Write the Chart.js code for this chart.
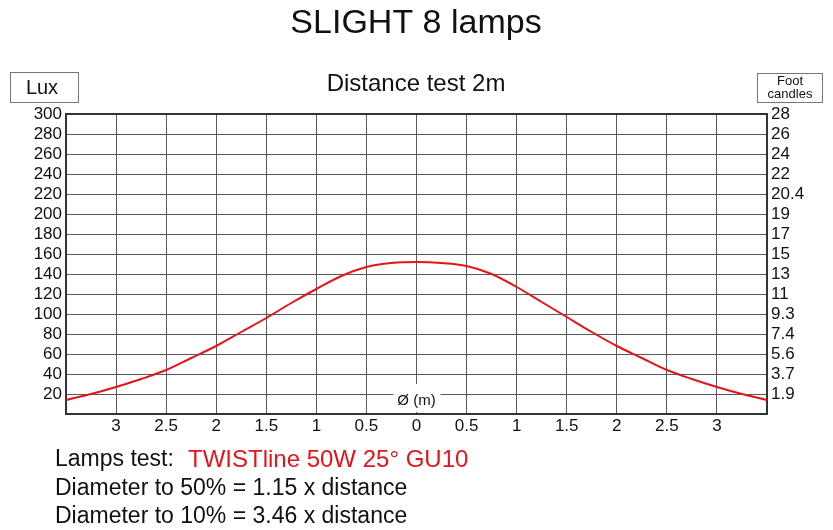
<!DOCTYPE html>
<html>
<head>
<meta charset="utf-8">
<script src="https://cdn.jsdelivr.net/npm/chart.js@4.4.0/dist/chart.umd.min.js"></script>
<style>
  html, body { margin: 0; padding: 0; background: #fff; }
  #wrap { position: relative; width: 833px; height: 530px; }
</style>
</head>
<body>
<div id="wrap"><canvas id="graph" width="833" height="530"></canvas></div>
<script>
// distance from centre (m) and measured lux
const distances = [-3.5, -3.25, -3, -2.75, -2.5, -2.25, -2, -1.75, -1.5, -1.25, -1, -0.75, -0.5, -0.25, 0,
  0.25, 0.5, 0.75, 1, 1.25, 1.5, 1.75, 2, 2.25, 2.5, 2.75, 3, 3.25, 3.5];
const luxValues = [14, 20, 27, 35, 44, 56, 68, 82, 96, 111, 125, 138, 147, 151, 152,
  151, 148, 140, 127, 112, 97, 82, 68, 56, 44, 35, 27, 20, 14];

const luxTicks = [20, 40, 60, 80, 100, 120, 140, 160, 180, 200, 220, 240, 260, 280, 300];
const footCandleLabels = ['1.9', '3.7', '5.6', '7.4', '9.3', '11', '13', '15', '17', '19', '20.4', '22', '24', '26', '28'];

const FONT = '"Liberation Sans", Arial, sans-serif';
const GRID = '#5a5a5a';

const extras = {
  id: 'extras',
  afterDraw(chart) {
    const c = chart.ctx;
    const x0 = chart.scales.x.getPixelForValue(0);
    const yb = chart.chartArea.bottom;
    c.save();
    // axis label with white background
    c.fillStyle = '#fff';
    c.fillRect(x0 - 23, yb - 30, 47, 28);
    c.fillStyle = '#111';
    c.font = '15px ' + FONT;
    c.textAlign = 'center';
    c.textBaseline = 'middle';
    c.fillText('Ø (m)', x0, yb - 13);

    // titles
    c.font = '34px ' + FONT;
    c.fillText('SLIGHT 8 lamps', 416, 24);
    c.font = '24px ' + FONT;
    c.fillText('Distance test 2m', 416, 84);

    // unit boxes
    c.strokeStyle = '#777';
    c.lineWidth = 1;
    c.strokeRect(10.5, 72.5, 68, 30);
    c.font = '20px ' + FONT;
    c.fillText('Lux', 42, 88);
    c.strokeRect(757.5, 73.5, 65, 29);
    c.font = '13px ' + FONT;
    c.fillText('Foot', 790, 81);
    c.fillText('candles', 790, 94);

    // notes under the chart
    c.textAlign = 'left';
    c.font = '23px ' + FONT;
    c.fillStyle = '#111';
    c.fillText('Lamps test:', 55, 460);
    c.fillStyle = '#e3141b';
    c.font = '24px ' + FONT;
    c.fillText('TWISTline 50W 25° GU10', 188, 460);
    c.fillStyle = '#111';
    c.font = '23px ' + FONT;
    c.fillText('Diameter to 50% = 1.15 x distance', 55, 489);
    c.fillText('Diameter to 10% = 3.46 x distance', 55, 517);
    c.restore();
  }
};

const tickFont = { family: FONT, size: 17 };

new Chart(document.getElementById('graph').getContext('2d'), {
  type: 'line',
  data: {
    datasets: [{
      label: 'Lux',
      data: distances.map((d, i) => ({ x: d, y: luxValues[i] })),
      borderColor: '#e3141b',
      borderWidth: 2,
      pointRadius: 0,
      cubicInterpolationMode: 'monotone',
      fill: false
    }]
  },
  options: {
    responsive: false,
    animation: false,
    layout: { padding: { top: 114, left: 0, right: 0, bottom: 0 } },
    plugins: {
      legend: { display: false },
      tooltip: { enabled: false }
    },
    scales: {
      x: {
        type: 'linear',
        min: -3.5,
        max: 3.5,
        afterFit(s) { s.height = 116; },
        afterBuildTicks(s) {
          s.ticks = [];
          for (let v = -3.5; v <= 3.5001; v += 0.5) s.ticks.push({ value: v });
        },
        grid: { color: GRID, lineWidth: 1, drawTicks: false },
        border: { color: '#333', width: 2 },
        ticks: {
          color: '#111',
          font: tickFont,
          padding: 2,
          maxRotation: 0,
          autoSkip: false,
          callback: v => Math.abs(v) === 3.5 ? '' : String(Math.abs(v))
        }
      },
      y: {
        position: 'left',
        min: 0,
        max: 300,
        afterFit(s) { s.width = 66; },
        afterBuildTicks(s) {
          s.ticks = [{ value: 0 }].concat(luxTicks.map(v => ({ value: v })));
        },
        grid: { color: c => c.tick && c.tick.value === 300 ? '#333' : GRID, lineWidth: c => c.tick && c.tick.value === 300 ? 2 : 1, drawTicks: false },
        border: { color: '#333', width: 2 },
        ticks: {
          color: '#111',
          font: tickFont,
          padding: 4,
          autoSkip: false,
          callback: v => v === 0 ? '' : String(v)
        }
      },
      y2: {
        position: 'right',
        min: 0,
        max: 300,
        afterFit(s) { s.width = 66; },
        afterBuildTicks(s) {
          s.ticks = [{ value: 0 }].concat(luxTicks.map(v => ({ value: v })));
        },
        grid: { drawOnChartArea: false, drawTicks: false },
        border: { color: '#333', width: 2 },
        ticks: {
          color: '#111',
          font: tickFont,
          padding: 4,
          autoSkip: false,
          callback: v => {
            const i = luxTicks.indexOf(v);
            return i < 0 ? '' : footCandleLabels[i];
          }
        }
      }
    }
  },
  plugins: [extras]
});
</script>
</body>
</html>
